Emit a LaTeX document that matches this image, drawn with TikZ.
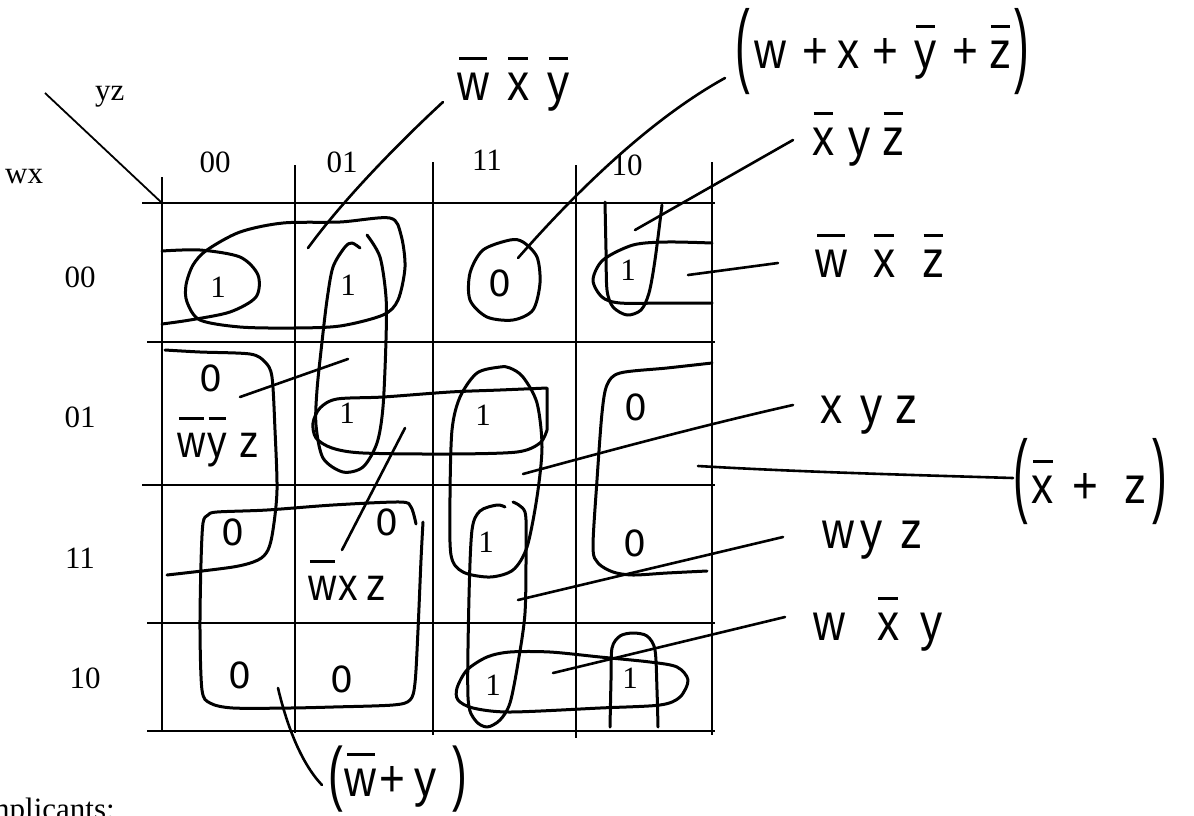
\documentclass[tikz,border=0pt]{standalone}
\usepackage{fontspec}
\usepackage{graphicx}
\setmainfont{Liberation Serif}
\newfontfamily\hand[FakeStretch=0.85]{Liberation Sans}
\newfontfamily\zfont{DejaVu Sans}
\newcommand{\olb}[1]{{\setbox0=\hbox{#1}\vbox{\offinterlineskip\hbox to \wd0{\hss\vrule width 0.88\wd0 height 3pt depth 0pt\hss}\kern 13pt\box0}}}
\newcommand{\bp}[3]{\raisebox{-#2}{\scalebox{1}[#3]{#1}}}
\begin{document}
\begin{tikzpicture}[x=1pt,y=-1pt,
  grid/.style={line width=1.8pt},
  hloop/.style={line width=3pt,line cap=round,line join=round},
  lead/.style={line width=2.6pt,line cap=round},
  pr/.style={font=\fontsize{31}{34}\selectfont,inner sep=0pt},
  hw/.style={font=\hand\fontsize{52}{56}\selectfont,inner sep=0pt},
  hws/.style={font=\hand\fontsize{46}{50}\selectfont,inner sep=0pt},
  zero/.style={font=\zfont\fontsize{36}{40}\selectfont,inner sep=0pt}]
\fill[white] (0,0) rectangle (1194,815);
\useasboundingbox (0,0) rectangle (1194,815);
\clip (0,0) rectangle (1194,815);

% grid
\draw[grid] (142,203) -- (715,203);
\draw[grid] (147,342) -- (715,342);
\draw[grid] (142,485) -- (715,485);
\draw[grid] (147,623) -- (715,623);
\draw[grid] (147,731) -- (715,731);
\draw[grid] (162,177) -- (162,731);
\draw[grid] (295,165) -- (295,733);
\draw[grid] (433,162) -- (433,735);
\draw[grid] (576,165) -- (576,738);
\draw[grid] (712,162) -- (712,735);
\coordinate (dg1) at (45,93);
\coordinate (dg2) at (162,203);
\draw[grid] (dg1) -- (dg2);

% printed labels
\node[pr,anchor=base west] (yz) at (95,100) {yz};
\node[pr,anchor=base west] (wx) at (5,183) {wx};
\node[pr,anchor=base] (c00) at (215,172) {00};
\node[pr,anchor=base] (c01) at (342,172) {01};
\node[pr,anchor=base] (c11) at (487,170) {11};
\node[pr,anchor=base] (c10) at (627,175) {10};
\node[pr,anchor=base] (r00) at (80,287) {00};
\node[pr,anchor=base] (r01) at (80,427) {01};
\node[pr,anchor=base] (r11) at (80,568) {11};
\node[pr,anchor=base] (r10) at (85,688) {10};
\node[pr,anchor=base west] (impl) at (-25,819) {Implicants:};

% ones
\node[pr,anchor=base] (o1) at (218,297) {1};
\node[pr,anchor=base] (o2) at (348,295) {1};
\node[pr,anchor=base] (o3) at (628,280) {1};
\node[pr,anchor=base] (o4) at (347,423) {1};
\node[pr,anchor=base] (o5) at (483,425) {1};
\node[pr,anchor=base] (o6) at (486,552) {1};
\node[pr,anchor=base] (o7) at (493,695) {1};
\node[pr,anchor=base] (o8) at (630,688) {1};

% zeros
\node[zero] (z1) at (500,283) {0};
\node[zero] (z2) at (211,378) {0};
\node[zero] (z3) at (233,532) {0};
\node[zero] (z4) at (387,522) {0};
\node[zero] (z5) at (240,675) {0};
\node[zero] (z6) at (342,679) {0};
\node[zero] (z7) at (636,407) {0};
\node[zero] (z8) at (635,543) {0};

% loops
\draw[hloop] plot[smooth cycle] coordinates {(207,250) (240,232) (283,223) (340,222) (390,218) (401,235) (405,267) (398,300) (383,315) (340,326) (293,328) (240,327) (200,320) (187,302) (186,285) (193,265)};
\draw[hloop] plot[smooth] coordinates {(162,251) (200,250) (240,257) (258,275) (256,297) (230,312) (190,320) (162,324)};
\draw[hloop] plot[smooth] coordinates {(712,243) (667,242) (633,245) (603,260) (593,280) (602,297) (620,303) (667,303) (712,303)};
\draw[hloop] plot[smooth] coordinates {(360,248) (352,243) (345,247) (333,267) (327,300) (322,342) (317,390) (316,425) (323,458) (343,472) (363,467) (377,443) (383,407) (386,340) (386,297) (380,257) (367,235)};
\draw[hloop] (547,430) -- (547,388) plot[smooth] coordinates {(547,388) (500,390) (450,392) (383,397) (337,399) (320,408) (313,423) (316,438) (332,448) (363,453) (450,454) (517,452) (540,443) (547,430)};
\draw[hloop] plot[smooth cycle] coordinates {(500,367) (477,373) (460,397) (452,430) (450,497) (451,555) (463,572) (490,577) (513,570) (527,547) (537,497) (542,447) (537,403) (523,377) (510,368)};
\draw[hloop] plot[smooth] coordinates {(505,507) (497,505) (480,511) (472,530) (469,597) (468,697) (475,720) (487,727) (500,720) (510,703) (518,663) (525,613) (526,547) (525,512) (513,502)};
\draw[hloop] plot[smooth cycle] coordinates {(457,688) (467,670) (487,657) (510,652) (550,652) (600,657) (650,662) (677,667) (688,680) (680,697) (660,705) (600,708) (510,712) (473,708) (458,700)};
\draw[hloop] plot[smooth] coordinates {(610,727) (611,680) (612,648) (620,636) (633,633) (647,636) (655,650) (657,690) (658,727)};
\draw[hloop] plot[smooth] coordinates {(605,202) (606,250) (607,290) (613,307) (627,315) (641,310) (649,293) (655,260) (662,205)};
\draw[hloop] plot[smooth] coordinates {(165,350) (200,352) (250,354) (265,362) (272,377) (275,430) (277,490) (273,530) (268,550) (258,560) (233,567) (167,575)};
\draw[hloop] plot[smooth] coordinates {(712,363) (667,368) (620,373) (607,385) (602,413) (597,480) (593,547) (598,563) (613,572) (633,575) (667,573) (707,571)};
\draw[hloop] plot[smooth] coordinates {(423,522) (421,560) (418,630) (415,683) (410,700) (393,705) (333,707) (290,708) (233,708) (210,703) (202,690) (200,630) (201,563) (203,523) (208,515) (217,512) (267,510) (333,505) (400,502) (411,507) (416,524)};
\draw[hloop] plot[smooth cycle] coordinates {(510,240) (483,250) (470,273) (470,300) (487,317) (513,320) (533,310) (540,283) (537,257) (523,242)};

% handwritten labels
\node[hw,anchor=base west] (t1) at (457,100) {\olb{w}\kern18pt\olb{x}\kern18pt\olb{y}};
\node[hw,anchor=base west] (t2) at (735,68) {\bp{(}{7.6pt}{1.78}\kern5pt w\kern16pt+\kern9pt x\kern13pt+\kern16pt\olb{y}\kern16pt+\kern11pt\olb{z}\kern3pt\bp{)}{7.6pt}{1.78}};
\node[hw,anchor=base west] (t3) at (812,155) {\olb{x}\kern14pt y\kern12pt\olb{z}};
\node[hw,anchor=base west] (t4) at (815,277) {\olb{w}\kern26pt\olb{x}\kern27pt\olb{z}};
\node[hw,anchor=base west] (t5) at (820,423) {x\kern18pt y\kern13pt z};
\node[hw,anchor=base west] (t6) at (822,548) {w\kern6pt y\kern18pt z};
\node[hw,anchor=base west] (t7) at (813,640) {w\kern32pt\olb{x}\kern21pt y};
\node[hw,anchor=base west] (t8) at (1013,503) {\bp{(}{2.6pt}{1.78}\kern4pt\olb{x}\kern19pt+\kern26pt z\kern6pt\bp{)}{2.6pt}{1.78}};
\node[hw,anchor=base west] (t9) at (328,796) {\bp{(}{1pt}{1.37}\kern2pt\olb{w}\kern3pt+\kern9pt y\kern16pt\bp{)}{1pt}{1.37}};
\node[hws,anchor=base west] (t10) at (177,457) {\olb{w}\kern2pt\olb{y}\kern13pt z};
\node[hws,anchor=base west] (t11) at (308,600) {\olb{w}\kern2pt x\kern9pt z};

% leaders
\coordinate (a1) at (308,248); \coordinate (b1) at (443,102);
\draw[lead] (a1) .. controls (345,197) and (405,137) .. (b1);
\coordinate (a2) at (518,258); \coordinate (b2) at (725,78);
\draw[lead] (a2) .. controls (560,210) and (640,125) .. (b2);
\coordinate (a3) at (635,230); \coordinate (b3) at (793,140);
\draw[lead] (a3) -- (b3);
\coordinate (a4) at (688,275); \coordinate (b4) at (778,263);
\draw[lead] (a4) -- (b4);
\coordinate (a5) at (523,474); \coordinate (b5) at (793,405);
\draw[lead] (a5) .. controls (600,453) and (700,426) .. (b5);
\coordinate (a6) at (698,466); \coordinate (b6) at (1013,478);
\draw[lead] (a6) .. controls (800,472) and (913,475) .. (b6);
\coordinate (a7) at (518,600); \coordinate (b7) at (783,537);
\draw[lead] (a7) -- (b7);
\coordinate (a8) at (553,673); \coordinate (b8) at (785,617);
\draw[lead] (a8) -- (b8);
\coordinate (a9) at (240,397); \coordinate (b9) at (348,359);
\draw[lead] (a9) -- (b9);
\coordinate (a10) at (342,550); \coordinate (b10) at (405,428);
\draw[lead] (a10) -- (b10);
\coordinate (a11) at (278,688); \coordinate (b11) at (322,785);
\draw[lead] (a11) .. controls (286,722) and (300,762) .. (b11);
\end{tikzpicture}
\end{document}
